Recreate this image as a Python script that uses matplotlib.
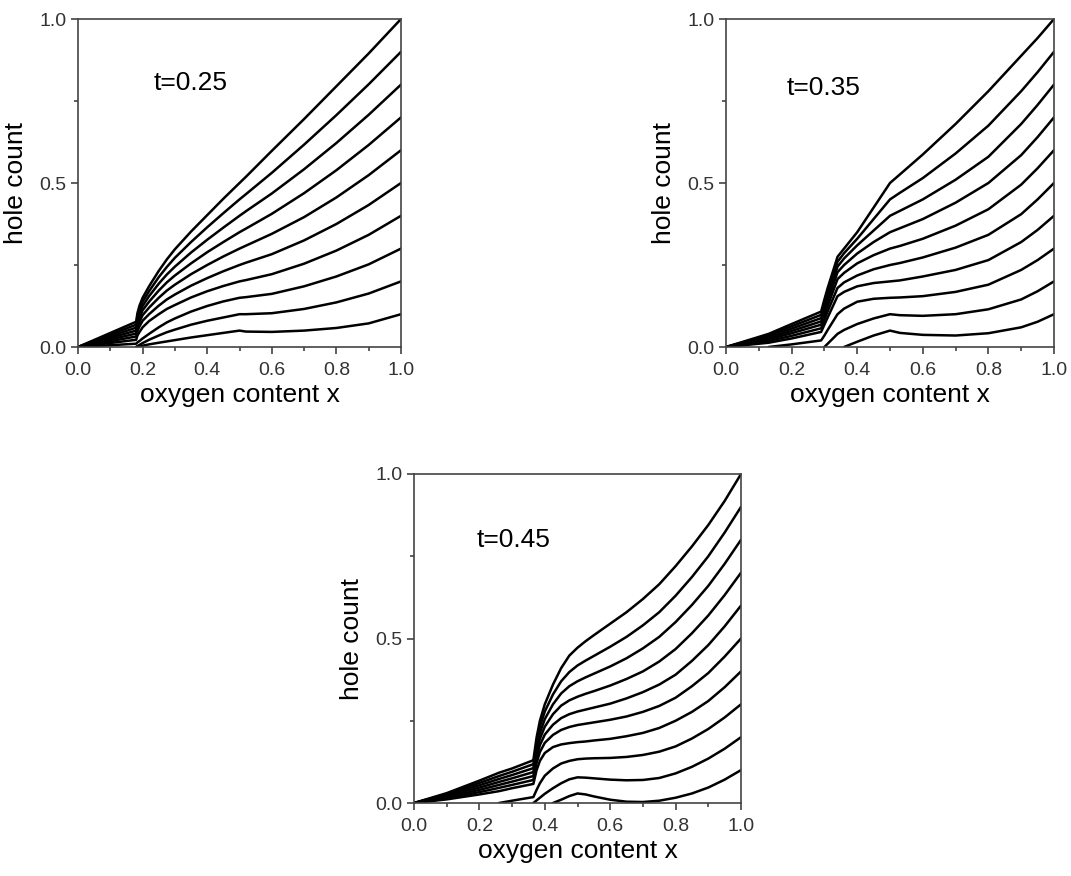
import numpy as np
import matplotlib
matplotlib.use("Agg")
import matplotlib.pyplot as plt
from matplotlib.ticker import MultipleLocator

nan = np.nan

# ---------------- data ----------------
labels_t = ["t=0.25", "t=0.35", "t=0.45"]

# panel 1 (t=0.25)
x1 = [0, 0.18, 0.184, 0.19, 0.2, 0.22, 0.25, 0.275, 0.3, 0.35, 0.4, 0.45, 0.5, 0.52, 0.6, 0.7, 0.8, 0.9, 1.0]
p1_e01 = [nan, 0, 0.001, 0.002, 0.004, 0.008, 0.013, 0.017, 0.021, 0.029, 0.036, 0.043, 0.05, 0.047, 0.046, 0.05, 0.058, 0.072, 0.1]
p1_e02 = [nan, 0, 0.003, 0.006, 0.012, 0.022, 0.035, 0.045, 0.053, 0.068, 0.08, 0.09, 0.1, 0.1, 0.103, 0.116, 0.136, 0.163, 0.2]
p1_e03 = [0, 0.01, 0.014, 0.018, 0.026, 0.04, 0.06, 0.075, 0.087, 0.108, 0.125, 0.139, 0.15, 0.152, 0.162, 0.185, 0.215, 0.252, 0.3]
p1_e04 = [0, 0.022, 0.035, 0.045, 0.06, 0.079, 0.1, 0.116, 0.128, 0.151, 0.17, 0.186, 0.2, 0.204, 0.222, 0.254, 0.294, 0.342, 0.4]
p1_e05 = [0, 0.032, 0.049, 0.062, 0.08, 0.1, 0.126, 0.145, 0.16, 0.187, 0.21, 0.231, 0.25, 0.257, 0.283, 0.325, 0.375, 0.433, 0.5]
p1_e06 = [0, 0.041, 0.06, 0.076, 0.097, 0.12, 0.15, 0.172, 0.19, 0.222, 0.25, 0.276, 0.3, 0.309, 0.345, 0.396, 0.456, 0.524, 0.6]
p1_e07 = [0, 0.05, 0.071, 0.089, 0.112, 0.138, 0.172, 0.197, 0.218, 0.255, 0.289, 0.32, 0.35, 0.361, 0.406, 0.469, 0.539, 0.616, 0.7]
p1_e08 = [0, 0.059, 0.082, 0.101, 0.125, 0.155, 0.193, 0.221, 0.245, 0.288, 0.327, 0.364, 0.4, 0.414, 0.468, 0.542, 0.622, 0.708, 0.8]
p1_e09 = [0, 0.068, 0.093, 0.113, 0.138, 0.17, 0.213, 0.244, 0.272, 0.32, 0.365, 0.408, 0.45, 0.466, 0.531, 0.617, 0.707, 0.801, 0.9]
p1_e10 = [0, 0.077, 0.103, 0.125, 0.15, 0.185, 0.232, 0.267, 0.298, 0.352, 0.402, 0.452, 0.5, 0.519, 0.598, 0.695, 0.795, 0.895, 1.0]

# panel 2 (t=0.35)
x2 = [0, 0.13, 0.2, 0.29, 0.30, 0.31, 0.34, 0.36, 0.4, 0.45, 0.5, 0.53, 0.6, 0.7, 0.8, 0.9, 0.95, 1.0]
p2_e01 = [nan, nan, nan, nan, nan, nan, nan, 0, 0.016, 0.035, 0.05, 0.043, 0.037, 0.035, 0.042, 0.06, 0.077, 0.1]
p2_e02 = [nan, nan, nan, nan, 0, 0.01, 0.04, 0.052, 0.07, 0.087, 0.1, 0.097, 0.095, 0.1, 0.115, 0.145, 0.17, 0.2]
p2_e03 = [nan, 0, 0.008, 0.02, 0.035, 0.052, 0.10, 0.117, 0.138, 0.147, 0.15, 0.151, 0.155, 0.168, 0.19, 0.235, 0.265, 0.3]
p2_e04 = [0, 0.013, 0.026, 0.046, 0.068, 0.09, 0.155, 0.168, 0.185, 0.195, 0.2, 0.203, 0.215, 0.235, 0.265, 0.32, 0.357, 0.4]
p2_e05 = [0, 0.018, 0.034, 0.057, 0.083, 0.109, 0.18, 0.197, 0.218, 0.237, 0.25, 0.256, 0.273, 0.303, 0.342, 0.405, 0.45, 0.5]
p2_e06 = [0, 0.023, 0.042, 0.068, 0.096, 0.125, 0.207, 0.226, 0.255, 0.28, 0.3, 0.308, 0.33, 0.37, 0.42, 0.495, 0.545, 0.6]
p2_e07 = [0, 0.027, 0.049, 0.078, 0.108, 0.14, 0.228, 0.25, 0.285, 0.32, 0.35, 0.362, 0.39, 0.44, 0.50, 0.585, 0.64, 0.7]
p2_e08 = [0, 0.032, 0.056, 0.088, 0.12, 0.154, 0.245, 0.27, 0.31, 0.355, 0.4, 0.415, 0.45, 0.51, 0.58, 0.68, 0.738, 0.8]
p2_e09 = [0, 0.036, 0.063, 0.098, 0.133, 0.168, 0.26, 0.286, 0.33, 0.39, 0.45, 0.47, 0.515, 0.59, 0.675, 0.78, 0.838, 0.9]
p2_e10 = [0, 0.04, 0.07, 0.108, 0.145, 0.18, 0.275, 0.30, 0.35, 0.425, 0.5, 0.526, 0.587, 0.68, 0.78, 0.888, 0.942, 1.0]

# panel 3 (t=0.45)
x3 = [0, 0.1, 0.2, 0.26, 0.3, 0.365, 0.375, 0.385, 0.4, 0.425, 0.45, 0.475, 0.5, 0.525, 0.55, 0.6, 0.65, 0.7, 0.75, 0.8, 0.85, 0.9, 0.95, 1.0]
p3_e01 = [nan, nan, nan, nan, nan, nan, nan, nan, nan, 0, 0.01, 0.021, 0.029, 0.026, 0.02, 0.01, 0.004, 0.003, 0.007, 0.016, 0.029, 0.047, 0.071, 0.1]
p3_e02 = [nan, nan, nan, nan, nan, 0, 0.008, 0.016, 0.028, 0.045, 0.06, 0.072, 0.078, 0.077, 0.075, 0.071, 0.069, 0.07, 0.076, 0.09, 0.11, 0.135, 0.165, 0.2]
p3_e03 = [nan, nan, nan, 0, 0.007, 0.018, 0.04, 0.06, 0.083, 0.105, 0.12, 0.128, 0.133, 0.135, 0.136, 0.137, 0.14, 0.146, 0.156, 0.172, 0.196, 0.225, 0.26, 0.3]
p3_e04 = [0, 0.011, 0.026, 0.036, 0.045, 0.058, 0.10, 0.128, 0.152, 0.17, 0.178, 0.182, 0.185, 0.187, 0.19, 0.195, 0.203, 0.213, 0.228, 0.25, 0.277, 0.31, 0.352, 0.4]
p3_e05 = [0, 0.014, 0.033, 0.046, 0.055, 0.07, 0.122, 0.155, 0.183, 0.207, 0.222, 0.231, 0.237, 0.241, 0.245, 0.253, 0.263, 0.277, 0.295, 0.32, 0.355, 0.395, 0.445, 0.5]
p3_e06 = [0, 0.017, 0.04, 0.055, 0.065, 0.082, 0.14, 0.176, 0.208, 0.238, 0.258, 0.27, 0.278, 0.284, 0.29, 0.302, 0.318, 0.337, 0.36, 0.39, 0.432, 0.48, 0.537, 0.6]
p3_e07 = [0, 0.021, 0.047, 0.064, 0.075, 0.094, 0.155, 0.195, 0.232, 0.27, 0.296, 0.312, 0.323, 0.332, 0.34, 0.357, 0.377, 0.40, 0.43, 0.468, 0.516, 0.57, 0.632, 0.7]
p3_e08 = [0, 0.024, 0.054, 0.073, 0.085, 0.106, 0.17, 0.213, 0.255, 0.30, 0.333, 0.355, 0.37, 0.382, 0.393, 0.415, 0.44, 0.47, 0.505, 0.55, 0.602, 0.66, 0.727, 0.8]
p3_e09 = [0, 0.027, 0.061, 0.082, 0.095, 0.118, 0.185, 0.232, 0.278, 0.33, 0.37, 0.398, 0.418, 0.433, 0.447, 0.475, 0.505, 0.54, 0.58, 0.63, 0.687, 0.75, 0.822, 0.9]
p3_e10 = [0, 0.03, 0.068, 0.092, 0.105, 0.13, 0.20, 0.25, 0.30, 0.36, 0.41, 0.448, 0.472, 0.492, 0.51, 0.545, 0.58, 0.62, 0.665, 0.72, 0.78, 0.845, 0.918, 1.0]

panels = [
    (x1, [p1_e01, p1_e02, p1_e03, p1_e04, p1_e05, p1_e06, p1_e07, p1_e08, p1_e09, p1_e10]),
    (x2, [p2_e01, p2_e02, p2_e03, p2_e04, p2_e05, p2_e06, p2_e07, p2_e08, p2_e09, p2_e10]),
    (x3, [p3_e01, p3_e02, p3_e03, p3_e04, p3_e05, p3_e06, p3_e07, p3_e08, p3_e09, p3_e10]),
]

xticks = [0.0, 0.2, 0.4, 0.6, 0.8, 1.0]
yticks = [0.0, 0.5, 1.0]

# ---------------- layout ----------------
plt.rcParams['font.family'] = ['Liberation Sans', 'DejaVu Sans']
W, H = 1071, 876
fig = plt.figure(figsize=(W / 100, H / 100), dpi=100)

rects_px = [(78, 19, 323, 328), (726, 19, 328, 328), (414, 474, 327, 329)]
text_pos = [(0.235, 0.805), (0.186, 0.79), (0.19, 0.80)]

for (xg, curves), (l, t, w, h), lab, (tx, ty) in zip(panels, rects_px, labels_t, text_pos):
    ax = fig.add_axes([l / W, 1 - (t + h) / H, w / W, h / H])
    for yv in curves:
        ax.plot(xg, yv, color='black', lw=1.8, solid_joinstyle='round', solid_capstyle='round')
    ax.set_xlim(0, 1)
    ax.set_ylim(0, 1)
    ax.set_xticks(xticks)
    ax.set_xticklabels([f"{v:.1f}" for v in xticks])
    ax.set_yticks(yticks)
    ax.set_yticklabels([f"{v:.1f}" for v in yticks])
    ax.xaxis.set_minor_locator(MultipleLocator(0.1))
    ax.yaxis.set_minor_locator(MultipleLocator(0.25))
    ax.tick_params(which='both', direction='out', top=False, right=False,
                   colors='#333333', labelcolor='#333333', labelsize=14, width=1.1)
    ax.tick_params(which='major', length=5)
    ax.tick_params(which='minor', length=3)
    ax.tick_params(axis='x', which='major', pad=6)
    for s in ax.spines.values():
        s.set_color('#444444')
        s.set_linewidth(1.2)
    ax.set_xlabel("oxygen content x", fontsize=19, labelpad=3)
    ax.set_ylabel("hole count", fontsize=19, labelpad=8)
    ax.text(tx, ty, lab, transform=ax.transAxes, fontsize=19, ha='left', va='center')

fig.savefig("out.png", dpi=100, facecolor='white')
